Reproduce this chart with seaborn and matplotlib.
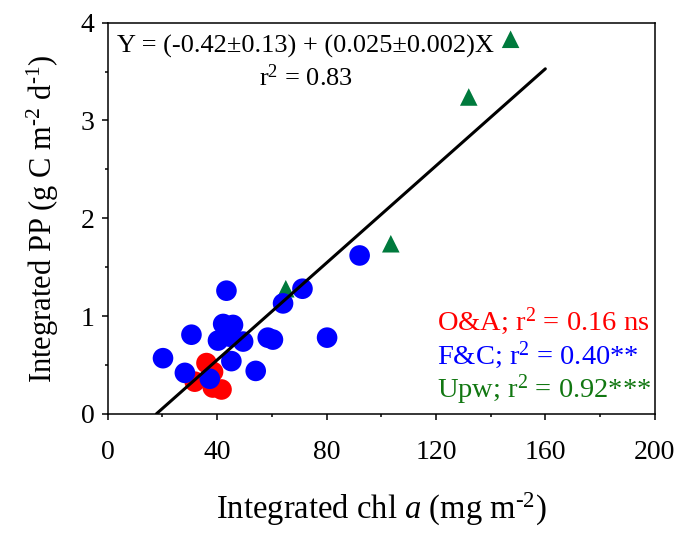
import numpy as np
import pandas as pd
import matplotlib
matplotlib.use("Agg")
import matplotlib.pyplot as plt
from matplotlib.ticker import MultipleLocator
import seaborn as sns

# values
oa_chl = [36.1, 38.5, 31.8, 41.6, 38.4]
oa_pp = [0.52, 0.43, 0.33, 0.25, 0.27]

fc_chl = [20.2, 30.6, 28.2, 43.4, 42.2, 45.8, 40.3, 44.6, 49.5, 45.2,
          54.1, 37.3, 58.5, 60.4, 64.1, 71.2, 80.2, 92.1]
fc_pp = [0.57, 0.81, 0.42, 1.26, 0.92, 0.91, 0.75, 0.79, 0.74, 0.54,
         0.44, 0.36, 0.78, 0.76, 1.13, 1.28, 0.78, 1.62]

upw_chl = [65.1, 103.5, 132.0, 147.3]
upw_pp = [1.28, 1.74, 3.24, 3.83]

fit_intercept = -0.44
fit_slope = 0.0248
fit_x = [17.8, 160]

df = pd.DataFrame({
    "chl": oa_chl + fc_chl + upw_chl,
    "pp": oa_pp + fc_pp + upw_pp,
    "group": ["O&A"] * len(oa_chl) + ["F&C"] * len(fc_chl) + ["Upw"] * len(upw_chl),
})

sns.set_style("ticks", rc={"text.color": "black", "axes.labelcolor": "black",
                           "xtick.color": "black", "ytick.color": "black",
                           "axes.edgecolor": "black"})
plt.rcParams["font.family"] = ["Liberation Serif", "DejaVu Serif"]
plt.rcParams["mathtext.fontset"] = "custom"
plt.rcParams["mathtext.rm"] = "Liberation Serif"
plt.rcParams["mathtext.it"] = "Liberation Serif:italic"

fig = plt.figure(figsize=(6.82, 5.39), dpi=100)
ax = fig.add_axes([0.158, 0.232, 0.802, 0.726])

palette = {"O&A": "#ff0000", "F&C": "#0000ff", "Upw": "#007a3d"}
markers = {"O&A": "o", "F&C": "o", "Upw": "^"}
sizes = {"O&A": 220, "F&C": 220, "Upw": 160}

for g in ["Upw", "O&A", "F&C"]:
    sub = df[df["group"] == g]
    sns.scatterplot(data=sub, x="chl", y="pp", color=palette[g], marker=markers[g],
                    s=sizes[g], edgecolor="none", linewidth=0, ax=ax, legend=False, zorder=3)

fx = np.array(fit_x)
ax.plot(fx, fit_intercept + fit_slope * fx, color="black", lw=2.2, zorder=4)

ax.set_xlim(0, 200)
ax.set_ylim(0, 4)
ax.xaxis.set_major_locator(MultipleLocator(40))
ax.xaxis.set_minor_locator(MultipleLocator(20))
ax.yaxis.set_major_locator(MultipleLocator(1))
ax.yaxis.set_minor_locator(MultipleLocator(0.5))
ax.tick_params(axis="both", which="major", direction="out", length=4.5, width=1.1,
               labelsize=20)
ax.tick_params(axis="both", which="minor", direction="out", length=2.5, width=1.1)
ax.tick_params(axis="x", which="major", pad=14)
ax.tick_params(axis="y", which="major", pad=5)
for sp in ax.spines.values():
    sp.set_linewidth(1.1)

ax.set_xlabel("Integrated chl $a$ (mg m$^{\\text{-}2}$)", fontsize=23.5, labelpad=19)
ax.set_ylabel("Integrated PP (g C m$^{\\text{-}2}$ d$^{\\text{-}1}$)", fontsize=22, labelpad=14)

ax.text(72.4, 3.76, "Y = (-0.42\u00b10.13) + (0.025\u00b10.002)X", ha="center", va="center", fontsize=19)
ax.text(72.4, 3.44, "r$^2$ = 0.83", ha="center", va="center", fontsize=19)

ax.text(120.3, 0.95, "O&A; r$^2$ = 0.16 ns", color="#ff0000", ha="left", va="center", fontsize=20.5)
ax.text(120.3, 0.60, "F&C; r$^2$ = 0.40**", color="#0000ff", ha="left", va="center", fontsize=20.5)
ax.text(120.3, 0.245, "Upw; r$^2$ = 0.92***", color="#117711", ha="left", va="center", fontsize=20.5)

fig.savefig("out.png", dpi=100)
